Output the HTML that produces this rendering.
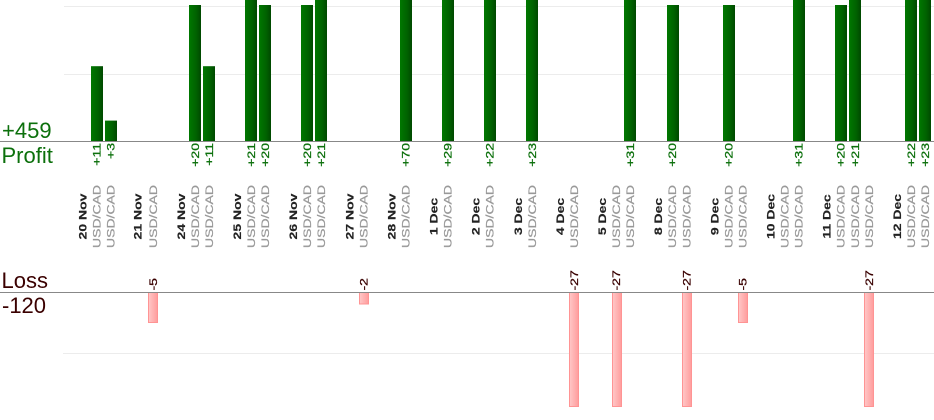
<!DOCTYPE html>
<html>
<head>
<meta charset="utf-8">
<style>
  html, body { margin: 0; padding: 0; background: #ffffff; }
  body { width: 934px; height: 420px; overflow: hidden; }
  svg { display: block; }
  text { font-family: "Liberation Sans", Arial, sans-serif; }
  .big { font-size: 22px; }
  .pl { font-size: 14px; fill: #0c700c; stroke: #0c700c; stroke-width: 0.35px; }
  .ll { font-size: 14px; fill: #3a0000; stroke: #3a0000; stroke-width: 0.35px; }
  .dt { font-size: 14px; font-weight: bold; fill: #222; stroke: #222; stroke-width: 0.2px; }
  .pr { font-size: 14px; fill: #999; stroke: #999; stroke-width: 0.3px; }
</style>
</head>
<body>
<svg width="934" height="420" viewBox="0 0 934 420" xmlns="http://www.w3.org/2000/svg">
  <defs>
    <linearGradient id="gp" x1="0" y1="0" x2="1" y2="0">
      <stop offset="0" stop-color="#007800"/>
      <stop offset="0.6" stop-color="#006200"/>
      <stop offset="1" stop-color="#004800"/>
    </linearGradient>
    <linearGradient id="gl" x1="0" y1="0" x2="1" y2="0">
      <stop offset="0" stop-color="#ffc8c8"/>
      <stop offset="1" stop-color="#ff9c9c"/>
    </linearGradient>
  </defs>

  <!-- gridlines -->
  <line x1="64" y1="6.5" x2="934" y2="6.5" stroke="#ececec" stroke-width="1"/>
  <line x1="64" y1="74.5" x2="934" y2="74.5" stroke="#ececec" stroke-width="1"/>
  <line x1="63" y1="353.5" x2="934" y2="353.5" stroke="#ececec" stroke-width="1"/>

  <!-- profit bars -->
  <g fill="url(#gp)">
    <rect x="91" y="66.2" width="12" height="74.8"/>
    <rect x="105" y="120.6" width="12" height="20.4"/>
    <rect x="189" y="5" width="12" height="136"/>
    <rect x="203" y="66.2" width="12" height="74.8"/>
    <rect x="245" y="0" width="12" height="141"/>
    <rect x="259" y="5" width="12" height="136"/>
    <rect x="301" y="5" width="12" height="136"/>
    <rect x="315" y="0" width="12" height="141"/>
    <rect x="400" y="0" width="12" height="141"/>
    <rect x="442" y="0" width="12" height="141"/>
    <rect x="484" y="0" width="12" height="141"/>
    <rect x="526" y="0" width="12" height="141"/>
    <rect x="624" y="0" width="12" height="141"/>
    <rect x="667" y="5" width="12" height="136"/>
    <rect x="723" y="5" width="12" height="136"/>
    <rect x="793" y="0" width="12" height="141"/>
    <rect x="835" y="5" width="12" height="136"/>
    <rect x="849" y="0" width="12" height="141"/>
    <rect x="905" y="0" width="12" height="141"/>
    <rect x="919" y="0" width="12" height="141"/>
  </g>

  <!-- loss bars -->
  <g fill="url(#gl)" stroke="#ff9494" stroke-width="1">
    <rect x="148.5" y="292.5" width="9" height="30"/>
    <rect x="359.5" y="292.5" width="9" height="11.5"/>
    <rect x="569.5" y="292.5" width="9" height="114"/>
    <rect x="612.5" y="292.5" width="9" height="114"/>
    <rect x="682.5" y="292.5" width="9" height="114"/>
    <rect x="738.5" y="292.5" width="9" height="30"/>
    <rect x="864.5" y="292.5" width="9" height="114"/>
  </g>

  <!-- baselines -->
  <line x1="0" y1="141.5" x2="934" y2="141.5" stroke="#888" stroke-width="1"/>
  <line x1="0" y1="292.5" x2="934" y2="292.5" stroke="#888" stroke-width="1"/>

  <!-- left labels -->
  <text class="big" x="2" y="138" fill="#0c700c">+459</text>
  <text class="big" x="1.5" y="163" fill="#0c700c">Profit</text>
  <text class="big" x="1.5" y="288" fill="#3a0000">Loss</text>
  <text class="big" x="2" y="313" fill="#3a0000">-120</text>

  <!-- profit value labels -->
  <g class="pl" text-anchor="end">
    <text transform="translate(100.6,143) rotate(-90) scale(1,0.78)">+11</text>
    <text transform="translate(114.6,143) rotate(-90) scale(1,0.78)">+3</text>
    <text transform="translate(198.9,143) rotate(-90) scale(1,0.78)">+20</text>
    <text transform="translate(212.9,143) rotate(-90) scale(1,0.78)">+11</text>
    <text transform="translate(255,143) rotate(-90) scale(1,0.78)">+21</text>
    <text transform="translate(269.1,143) rotate(-90) scale(1,0.78)">+20</text>
    <text transform="translate(311.2,143) rotate(-90) scale(1,0.78)">+20</text>
    <text transform="translate(325.2,143) rotate(-90) scale(1,0.78)">+21</text>
    <text transform="translate(409.5,143) rotate(-90) scale(1,0.78)">+70</text>
    <text transform="translate(451.6,143) rotate(-90) scale(1,0.78)">+29</text>
    <text transform="translate(493.7,143) rotate(-90) scale(1,0.78)">+22</text>
    <text transform="translate(535.8,143) rotate(-90) scale(1,0.78)">+23</text>
    <text transform="translate(634.1,143) rotate(-90) scale(1,0.78)">+31</text>
    <text transform="translate(676.2,143) rotate(-90) scale(1,0.78)">+20</text>
    <text transform="translate(732.4,143) rotate(-90) scale(1,0.78)">+20</text>
    <text transform="translate(802.6,143) rotate(-90) scale(1,0.78)">+31</text>
    <text transform="translate(844.7,143) rotate(-90) scale(1,0.78)">+20</text>
    <text transform="translate(858.8,143) rotate(-90) scale(1,0.78)">+21</text>
    <text transform="translate(914.9,143) rotate(-90) scale(1,0.78)">+22</text>
    <text transform="translate(929,143) rotate(-90) scale(1,0.78)">+23</text>
  </g>

  <!-- loss value labels -->
  <g class="ll" text-anchor="start">
    <text transform="translate(156.8,290.5) rotate(-90) scale(1,0.78)">-5</text>
    <text transform="translate(367.4,290.5) rotate(-90) scale(1,0.78)">-2</text>
    <text transform="translate(578,290.5) rotate(-90) scale(1,0.78)">-27</text>
    <text transform="translate(620.1,290.5) rotate(-90) scale(1,0.78)">-27</text>
    <text transform="translate(690.3,290.5) rotate(-90) scale(1,0.78)">-27</text>
    <text transform="translate(746.4,290.5) rotate(-90) scale(1,0.78)">-5</text>
    <text transform="translate(872.8,290.5) rotate(-90) scale(1,0.78)">-27</text>
  </g>

  <!-- date labels -->
  <g class="dt" text-anchor="middle">
    <text transform="translate(86.6,216.5) rotate(-90) scale(1,0.76)">20 Nov</text>
    <text transform="translate(141.7,216.5) rotate(-90) scale(1,0.76)">21 Nov</text>
    <text transform="translate(184.8,216.5) rotate(-90) scale(1,0.76)">24 Nov</text>
    <text transform="translate(241,216.5) rotate(-90) scale(1,0.76)">25 Nov</text>
    <text transform="translate(297.2,216.5) rotate(-90) scale(1,0.76)">26 Nov</text>
    <text transform="translate(353.3,216.5) rotate(-90) scale(1,0.76)">27 Nov</text>
    <text transform="translate(395.4,216.5) rotate(-90) scale(1,0.76)">28 Nov</text>
    <text transform="translate(437.6,216.5) rotate(-90) scale(1,0.76)">1 Dec</text>
    <text transform="translate(479.7,216.5) rotate(-90) scale(1,0.76)">2 Dec</text>
    <text transform="translate(521.8,216.5) rotate(-90) scale(1,0.76)">3 Dec</text>
    <text transform="translate(563.9,216.5) rotate(-90) scale(1,0.76)">4 Dec</text>
    <text transform="translate(606,216.5) rotate(-90) scale(1,0.76)">5 Dec</text>
    <text transform="translate(662.2,216.5) rotate(-90) scale(1,0.76)">8 Dec</text>
    <text transform="translate(718.4,216.5) rotate(-90) scale(1,0.76)">9 Dec</text>
    <text transform="translate(774.5,216.5) rotate(-90) scale(1,0.76)">10 Dec</text>
    <text transform="translate(830.7,216.5) rotate(-90) scale(1,0.76)">11 Dec</text>
    <text transform="translate(900.9,216.5) rotate(-90) scale(1,0.76)">12 Dec</text>
  </g>

  <!-- pair labels -->
  <g class="pr" text-anchor="middle">
    <text transform="translate(100.6,216.5) rotate(-90) scale(1,0.76)">USD/CAD</text>
    <text transform="translate(114.6,216.5) rotate(-90) scale(1,0.76)">USD/CAD</text>
    <text transform="translate(156.8,216.5) rotate(-90) scale(1,0.76)">USD/CAD</text>
    <text transform="translate(198.9,216.5) rotate(-90) scale(1,0.76)">USD/CAD</text>
    <text transform="translate(212.9,216.5) rotate(-90) scale(1,0.76)">USD/CAD</text>
    <text transform="translate(255,216.5) rotate(-90) scale(1,0.76)">USD/CAD</text>
    <text transform="translate(269.1,216.5) rotate(-90) scale(1,0.76)">USD/CAD</text>
    <text transform="translate(311.2,216.5) rotate(-90) scale(1,0.76)">USD/CAD</text>
    <text transform="translate(325.2,216.5) rotate(-90) scale(1,0.76)">USD/CAD</text>
    <text transform="translate(367.4,216.5) rotate(-90) scale(1,0.76)">USD/CAD</text>
    <text transform="translate(409.5,216.5) rotate(-90) scale(1,0.76)">USD/CAD</text>
    <text transform="translate(451.6,216.5) rotate(-90) scale(1,0.76)">USD/CAD</text>
    <text transform="translate(493.7,216.5) rotate(-90) scale(1,0.76)">USD/CAD</text>
    <text transform="translate(535.8,216.5) rotate(-90) scale(1,0.76)">USD/CAD</text>
    <text transform="translate(578,216.5) rotate(-90) scale(1,0.76)">USD/CAD</text>
    <text transform="translate(620.1,216.5) rotate(-90) scale(1,0.76)">USD/CAD</text>
    <text transform="translate(634.1,216.5) rotate(-90) scale(1,0.76)">USD/CAD</text>
    <text transform="translate(676.2,216.5) rotate(-90) scale(1,0.76)">USD/CAD</text>
    <text transform="translate(690.3,216.5) rotate(-90) scale(1,0.76)">USD/CAD</text>
    <text transform="translate(732.4,216.5) rotate(-90) scale(1,0.76)">USD/CAD</text>
    <text transform="translate(746.4,216.5) rotate(-90) scale(1,0.76)">USD/CAD</text>
    <text transform="translate(788.6,216.5) rotate(-90) scale(1,0.76)">USD/CAD</text>
    <text transform="translate(802.6,216.5) rotate(-90) scale(1,0.76)">USD/CAD</text>
    <text transform="translate(844.7,216.5) rotate(-90) scale(1,0.76)">USD/CAD</text>
    <text transform="translate(858.8,216.5) rotate(-90) scale(1,0.76)">USD/CAD</text>
    <text transform="translate(872.8,216.5) rotate(-90) scale(1,0.76)">USD/CAD</text>
    <text transform="translate(914.9,216.5) rotate(-90) scale(1,0.76)">USD/CAD</text>
    <text transform="translate(929,216.5) rotate(-90) scale(1,0.76)">USD/CAD</text>
  </g>
</svg>
</body>
</html>
